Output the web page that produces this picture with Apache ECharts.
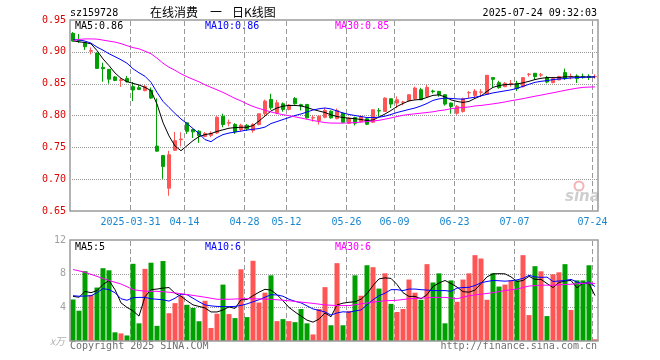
<!DOCTYPE html>
<html><head><meta charset="utf-8">
<script src="https://cdn.jsdelivr.net/npm/echarts@6/dist/echarts.min.js"></script>
<style>html,body{margin:0;padding:0;background:#fff}#c{width:660px;height:360px}</style>
</head><body><div id="c"></div>
<script>
const dates=['2025-03-17','2025-03-18','2025-03-19','2025-03-20','2025-03-21','2025-03-24','2025-03-25','2025-03-26','2025-03-27','2025-03-28',
'2025-03-31','2025-04-01','2025-04-02','2025-04-03','2025-04-07','2025-04-08','2025-04-09','2025-04-10','2025-04-11',
'2025-04-14','2025-04-15','2025-04-16','2025-04-17','2025-04-18','2025-04-21','2025-04-22','2025-04-23','2025-04-24','2025-04-25',
'2025-04-28','2025-04-29','2025-04-30','2025-05-06','2025-05-07','2025-05-08','2025-05-09',
'2025-05-12','2025-05-13','2025-05-14','2025-05-15','2025-05-16','2025-05-19','2025-05-20','2025-05-21','2025-05-22','2025-05-23',
'2025-05-26','2025-05-27','2025-05-28','2025-05-29','2025-06-03','2025-06-04','2025-06-05','2025-06-06',
'2025-06-09','2025-06-10','2025-06-11','2025-06-12','2025-06-13','2025-06-16','2025-06-17','2025-06-18','2025-06-19','2025-06-20',
'2025-06-23','2025-06-24','2025-06-25','2025-06-26','2025-06-27','2025-06-30','2025-07-01','2025-07-02','2025-07-03','2025-07-04',
'2025-07-07','2025-07-08','2025-07-09','2025-07-10','2025-07-11','2025-07-14','2025-07-15','2025-07-16','2025-07-17','2025-07-18',
'2025-07-21','2025-07-22','2025-07-23','2025-07-24'];
const tickDates=['2025-03-31','2025-04-14','2025-04-28','2025-05-12','2025-05-26','2025-06-09','2025-06-23','2025-07-07','2025-07-24'];
const priceTicks=[0.65,0.70,0.75,0.80,0.85,0.90,0.95];
const volTicks=[0,4,8,12];

const opens=[0.929,0.918,0.914,0.901,0.898,0.8755,0.8725,0.8605,0.855,0.858,
0.8453,0.8437,0.839,0.840,0.752,0.737,0.6858,0.7453,0.762,0.7885,
0.778,0.7752,0.7672,0.7688,0.7727,0.7989,0.788,0.7858,0.7779,0.7847,
0.7763,0.7858,0.8027,0.8253,0.8043,0.8184,0.8095,0.8268,0.817,0.8174,
0.796,0.7921,0.7973,0.8068,0.795,0.8036,0.7879,0.7968,0.7905,0.7947,
0.7894,0.8076,0.8063,0.8263,0.8195,0.8208,0.8232,0.8263,0.8405,0.83,
0.8385,0.8379,0.8327,0.8195,0.8036,0.8063,0.8356,0.8316,0.8365,0.8332,
0.8595,0.8516,0.8453,0.8498,0.8505,0.8453,0.8645,0.8663,0.8635,0.8595,
0.8516,0.8558,0.8674,0.8609,0.8621,0.8613,0.8616,0.8609];
const closes=[0.917,0.917,0.908,0.902,0.874,0.8735,0.857,0.855,0.856,0.853,
0.840,0.841,0.8453,0.8273,0.744,0.720,0.7384,0.7605,0.763,0.7752,
0.7743,0.7684,0.7716,0.772,0.7973,0.7858,0.789,0.7742,0.7847,0.779,
0.7858,0.8027,0.8226,0.8121,0.82,0.8095,0.8163,0.8184,0.815,0.7963,
0.7966,0.7989,0.8079,0.7963,0.808,0.7894,0.7958,0.7879,0.7984,0.7863,
0.809,0.8072,0.8273,0.8179,0.8247,0.8212,0.8326,0.8431,0.8247,0.8442,
0.8375,0.8327,0.8179,0.8142,0.8142,0.8263,0.836,0.8384,0.837,0.8632,
0.8568,0.8437,0.8505,0.8502,0.8421,0.8595,0.8649,0.8611,0.8639,0.8526,
0.8579,0.8611,0.8579,0.8613,0.8579,0.8609,0.86,0.8612];
const lows=[0.916,0.914,0.903,0.896,0.873,0.853,0.850,0.854,0.845,0.852,
0.8226,0.840,0.838,0.826,0.7435,0.7005,0.674,0.745,0.7515,0.771,
0.7647,0.757,0.766,0.766,0.771,0.7815,0.7831,0.771,0.775,0.776,
0.773,0.7845,0.799,0.809,0.802,0.806,0.808,0.817,0.808,0.795,
0.7905,0.7858,0.7955,0.795,0.794,0.788,0.7865,0.7842,0.789,0.785,
0.788,0.7984,0.8063,0.8116,0.8116,0.816,0.822,0.8245,0.8245,0.8285,
0.8347,0.8295,0.8155,0.8027,0.8011,0.8045,0.8279,0.826,0.829,0.833,
0.8437,0.842,0.8445,0.8453,0.8385,0.844,0.8611,0.8558,0.8605,0.8505,
0.8505,0.8555,0.8558,0.8568,0.8511,0.8579,0.8558,0.8579];
const highs=[0.931,0.928,0.915,0.907,0.899,0.883,0.873,0.862,0.859,0.862,
0.8526,0.8475,0.848,0.844,0.827,0.737,0.7447,0.7742,0.7737,0.789,
0.7795,0.777,0.774,0.775,0.7989,0.8027,0.7937,0.788,0.787,0.7865,
0.788,0.803,0.825,0.8342,0.8245,0.8205,0.818,0.829,0.8185,0.818,
0.8005,0.8005,0.812,0.808,0.811,0.805,0.797,0.798,0.800,0.796,
0.810,0.8116,0.8285,0.827,0.830,0.823,0.8335,0.8455,0.8435,0.848,
0.8405,0.838,0.833,0.8205,0.8165,0.828,0.8384,0.8415,0.8415,0.8635,
0.8598,0.8545,0.8525,0.8558,0.8545,0.8598,0.8668,0.8668,0.8668,0.8621,
0.8595,0.8625,0.8737,0.8658,0.8647,0.8658,0.8647,0.8647];
const volumes=[4.93,3.6,8.3,5.47,6.35,8.65,8.4,1.03,0.9,0.66,
9.17,2.1,8.57,9.3,1.8,9.5,3.3,4.5,5.4,4.3,
3.93,2.35,4.78,1.55,3.24,6.7,3.2,2.72,8.52,2.84,
9.53,4.57,5.74,7.8,2.36,2.6,2.36,2.24,3.8,2.1,
0.78,3.8,6.4,1.87,9.25,1.87,3.57,7.8,5.38,9.0,
8.77,6.23,8.04,4.41,3.45,3.8,7.3,5.74,4.9,9.13,
6.95,8.04,2.1,7.2,4.66,7.3,8.04,10.2,9.8,4.9,
8.04,6.47,6.7,7.2,7.2,10.2,3.08,8.89,8.28,2.96,
7.92,8.16,9.13,3.69,7.2,7.2,9.0,0.2];
const ma5=[0.9173,0.9157,0.9147,0.9126,0.902,0.8889,0.8784,0.8668,0.8584,0.8532,
0.8505,0.8479,0.8442,0.839,0.8179,0.7889,0.7679,0.7521,0.7447,0.7526,
0.7605,0.7668,0.77,0.7716,0.775,0.7775,0.78,0.781,0.7815,0.7815,
0.7842,0.7913,0.7992,0.8071,0.8118,0.8147,0.8158,0.8158,0.815,0.8126,
0.8095,0.807,0.8047,0.801,0.7984,0.7968,0.7957,0.795,0.7937,0.7921,
0.7929,0.7976,0.8024,0.8079,0.8142,0.8189,0.8229,0.8245,0.8253,0.8284,
0.8316,0.8324,0.8292,0.8245,0.8221,0.8205,0.8221,0.8268,0.8308,0.8379,
0.8442,0.8469,0.8485,0.849,0.8495,0.8513,0.8537,0.8564,0.8584,0.8595,
0.8595,0.8595,0.8608,0.8608,0.8605,0.8605,0.8605,0.8605];
const ma10=[0.9189,0.9189,0.9168,0.9137,0.9074,0.9026,0.897,0.8924,0.8876,0.8821,
0.8734,0.8671,0.8616,0.8521,0.8363,0.8221,0.8126,0.8032,0.7945,0.7874,
0.7795,0.7716,0.7621,0.7589,0.7653,0.77,0.7724,0.774,0.7755,0.7771,
0.7784,0.7795,0.7818,0.7874,0.7905,0.7937,0.7968,0.80,0.8024,0.8055,
0.8087,0.8106,0.8118,0.8103,0.8071,0.8039,0.8016,0.80,0.7984,0.7968,
0.7968,0.7973,0.7989,0.8016,0.8047,0.8071,0.8095,0.8118,0.815,0.8189,
0.8237,0.8261,0.8273,0.8268,0.8261,0.8256,0.8273,0.8287,0.8308,0.8332,
0.8355,0.8371,0.8387,0.8403,0.8426,0.8458,0.849,0.8521,0.8537,0.8548,
0.8564,0.8573,0.8581,0.8589,0.8595,0.86,0.8605,0.8605];
const ma30=[0.9176,0.9195,0.9203,0.9203,0.92,0.9184,0.9168,0.9153,0.9129,0.9097,
0.9066,0.9047,0.901,0.897,0.89,0.8821,0.8758,0.871,0.8655,0.8608,
0.8568,0.8529,0.8482,0.8442,0.8403,0.8363,0.8316,0.8268,0.8229,0.8182,
0.8142,0.811,0.8084,0.8055,0.8032,0.8013,0.7997,0.7979,0.796,0.7941,
0.7921,0.7905,0.7889,0.7881,0.788,0.788,0.7884,0.7889,0.7896,0.7905,
0.7913,0.7924,0.7943,0.7962,0.7984,0.8003,0.8016,0.8027,0.8037,0.8047,
0.8058,0.8076,0.8087,0.8107,0.8118,0.8126,0.8134,0.815,0.8158,0.817,
0.8183,0.8197,0.8213,0.8232,0.8248,0.8265,0.8284,0.8303,0.832,0.8339,
0.8357,0.8376,0.8395,0.8413,0.8429,0.8442,0.8446,0.845];
const vma5=[5.3,5.2,5.89,5.74,5.99,6.71,7.19,6.1,4.53,3.99,
3.57,2.96,5.26,6.1,6.17,6.29,6.35,5.68,5.32,4.78,
4.29,4.11,3.93,3.45,3.45,3.69,4.05,3.87,4.9,4.93,
5.38,5.8,6.14,6.05,5.5,4.78,3.99,3.45,2.96,2.48,
2.24,2.6,3.33,2.88,4.29,4.5,4.6,4.66,4.96,5.62,
6.59,7.38,7.5,7.44,6.71,5.74,5.3,5.3,5.02,5.5,
6.47,6.89,7.19,6.83,6.41,5.86,5.8,6.05,6.83,7.62,
7.98,8.0,7.98,7.62,7.07,7.19,7.68,7.32,7.32,6.83,
6.35,6.95,7.13,7.19,6.31,6.89,6.8,5.4];
const vma10=[5.38,5.32,5.34,5.38,5.74,6.23,6.1,5.74,5.02,4.84,
5.14,5.18,5.18,5.02,4.96,4.9,4.74,5.08,5.56,5.5,
5.08,4.66,4.29,4.17,4.11,4.09,4.09,4.11,4.23,4.41,
4.66,4.9,5.2,5.5,5.47,5.32,4.96,4.72,4.53,4.17,
3.81,3.63,3.45,3.08,3.33,3.47,3.42,3.57,3.69,4.29,
4.9,5.38,5.68,6.1,6.1,5.99,6.17,6.17,6.1,6.05,
5.99,5.99,5.99,5.9,6.29,6.35,6.38,6.59,6.92,7.07,
7.19,7.16,7.11,7.16,7.26,7.44,7.8,7.62,7.56,7.59,
7.07,7.13,7.19,7.32,7.01,6.8,7.01,6.47];
const vma30=[8.49,8.33,8.16,7.92,7.68,7.43,7.19,6.98,6.77,6.45,
6.1,6.0,5.92,5.91,5.9,5.85,5.8,5.71,5.62,5.52,
5.42,5.31,5.2,5.08,4.96,4.96,4.96,4.99,5.02,5.02,
5.02,5.0,4.98,4.94,4.9,4.84,4.78,4.7,4.62,4.55,
4.47,4.38,4.29,4.25,4.21,4.21,4.21,4.31,4.41,4.52,
4.62,4.7,4.78,4.81,4.84,4.93,5.02,5.06,5.1,5.14,
5.18,5.18,5.18,5.1,5.02,5.2,5.38,5.47,5.56,5.65,
5.74,5.87,5.99,6.08,6.17,6.35,6.53,6.58,6.63,6.63,
6.63,6.67,6.71,6.75,6.8,6.85,6.89,6.83];

const UP='#ff5555', DOWN='#00a000', GRIDC='#999999';
const MONO='"DejaVu Sans Mono", "Liberation Mono", monospace';
const CJK='"Noto Sans CJK SC", sans-serif';
const chart=echarts.init(document.getElementById('c'),null,{renderer:'canvas'});
const tickIdx=tickDates.map(d=>dates.indexOf(d));
const isTick=(i)=>tickIdx.indexOf(i)>=0;
const kdata=dates.map((d,i)=>[opens[i],closes[i],lows[i],highs[i]]);
const vdata=volumes.map((v,i)=>({value:v,itemStyle:{color:closes[i]>=opens[i]?UP:DOWN}}));
function txt(x,y,t,color,extra){return {type:'text',x:x,y:y,z:100,silent:true,style:Object.assign({text:t,fill:color,font:'10px '+MONO,textVerticalAlign:'middle'},extra||{})};}
const line=(name,data,color,xi,yi)=>({name,type:'line',data,xAxisIndex:xi,yAxisIndex:yi,showSymbol:false,symbol:'none',lineStyle:{color,width:1},itemStyle:{color},animation:false,z:5});
// grid lines positioned through the axes' own scales, drawn as rect dots / dashes
function vGrid(xi,yi,yMin){
  return {type:'custom',xAxisIndex:xi,yAxisIndex:yi,z:2,silent:true,animation:false,clip:false,
    data:tickIdx.map(i=>[i,yMin]),encode:{x:0,y:1},
    renderItem:(params,api)=>{
      const cs=params.coordSys;
      const c=api.coord([api.value(0),api.value(1)]);
      const x=Math.round(c[0]-api.size([1,0])[0]/2);
      const kids=[];
      const y0=Math.round(cs.y), y1=Math.round(cs.y+cs.height);
      for(let y=y0+1;y<y1;y+=8){kids.push({type:'rect',shape:{x:x,y:y,width:1,height:Math.min(5,y1-y)},style:{fill:GRIDC}});}
      return {type:'group',children:kids};
    }};
}
function hGrid(xi,yi,vals){
  return {type:'custom',xAxisIndex:xi,yAxisIndex:yi,z:2,silent:true,animation:false,clip:false,
    data:vals.map(v=>[0,v]),encode:{x:0,y:1},
    renderItem:(params,api)=>{
      const cs=params.coordSys;
      const y=Math.round(api.coord([api.value(0),api.value(1)])[1]);
      const kids=[];
      const x0=Math.round(cs.x), x1=Math.round(cs.x+cs.width);
      for(let x=x0+2;x<x1;x+=2){kids.push({type:'rect',shape:{x:x,y:y,width:1,height:1},style:{fill:GRIDC}});}
      return {type:'group',children:kids};
    }};
}

chart.setOption({
  animation:false,
  backgroundColor:'#fff',
  grid:[{left:70,top:20,width:528,height:191,show:false},{left:70,top:240,width:528,height:101,show:false}],
  xAxis:[
    {type:'category',gridIndex:0,data:dates,boundaryGap:true,axisLine:{show:false},axisTick:{show:false},
     axisLabel:{interval:(i)=>isTick(i),color:'#1a86d0',fontFamily:MONO,fontSize:10,margin:6,
       padding:[0,5,0,0],formatter:(v)=> (v===tickDates[0]?v:v.slice(5))},
     splitLine:{show:false}},
    {type:'category',gridIndex:1,data:dates,boundaryGap:true,axisLine:{show:false},axisTick:{show:false},
     axisLabel:{show:false},splitLine:{show:false}}
  ],
  yAxis:[
    {type:'value',gridIndex:0,min:priceTicks[0],max:priceTicks[priceTicks.length-1],interval:0.05,
     axisLine:{show:false},axisTick:{show:false},
     axisLabel:{color:'#e00000',fontFamily:MONO,fontSize:10,margin:4,formatter:v=>v.toFixed(2)},
     splitLine:{show:false}},
    {type:'value',gridIndex:1,min:volTicks[0],max:volTicks[volTicks.length-1],interval:4,
     axisLine:{show:false},axisTick:{show:false},
     axisLabel:{color:'#a0a0a0',fontFamily:MONO,fontSize:10,margin:4,formatter:v=>v===0?'':String(v)},
     splitLine:{show:false}}
  ],
  series:[
    hGrid(0,0,priceTicks.slice(1,-1)),
    vGrid(0,0,priceTicks[0]),
    hGrid(1,1,volTicks.slice(1,-1)),
    vGrid(1,1,volTicks[0]),
    {type:'candlestick',xAxisIndex:0,yAxisIndex:0,data:kdata,barWidth:4,
     itemStyle:{color:UP,color0:DOWN,borderColor:UP,borderColor0:DOWN,borderWidth:1},z:3},
    line('MA5',ma5,'#000000',0,0),
    line('MA10',ma10,'#0000ff',0,0),
    line('MA30',ma30,'#ff00ff',0,0),
    {type:'bar',xAxisIndex:1,yAxisIndex:1,data:vdata,barWidth:5,z:2},
    line('VMA5',vma5,'#000000',1,1),
    line('VMA10',vma10,'#0000ff',1,1),
    line('VMA30',vma30,'#ff00ff',1,1)
  ],
  graphic:[
    {type:'rect',z:120,silent:true,shape:{x:70,y:20,width:528,height:191},style:{fill:'none',stroke:'#9a9a9a',lineWidth:1.5}},
    {type:'rect',z:120,silent:true,shape:{x:70,y:240,width:528,height:101},style:{fill:'none',stroke:'#9a9a9a',lineWidth:1.5}},
    txt(70,13,'sz159728','#000'),
    txt(150,12,'在线消费','#000',{font:'12px '+CJK}),
    txt(210,12,'一','#000',{font:'12px '+CJK}),
    txt(232,12,'日K线图','#000',{font:'12px '+CJK}),
    txt(597,13,'2025-07-24 09:32:03','#000',{textAlign:'right'}),
    txt(75,26,'MA5:0.86','#000'),
    txt(205,26,'MA10:0.86','#0000ff'),
    txt(335,26,'MA30:0.85','#ff00ff'),
    txt(75,247,'MA5:5','#000'),
    txt(205,247,'MA10:6','#0000ff'),
    txt(335,247,'MA30:6','#ff00ff'),
    txt(50,341,'x万','#b0b0b0',{font:'italic 10px '+CJK}),
    txt(70,346,'Copyright 2025 SINA.COM','#707070'),
    txt(597,346,'http://finance.sina.com.cn','#707070',{textAlign:'right'}),
    {type:'circle',z:90,silent:true,shape:{cx:579,cy:186,r:4.5},style:{fill:'none',stroke:'#f3b4b4',lineWidth:2}},
    txt(565,197,'sina','#cfcfcf',{font:'italic bold 15px "DejaVu Sans", sans-serif'})
  ]
});
</script></body></html>
